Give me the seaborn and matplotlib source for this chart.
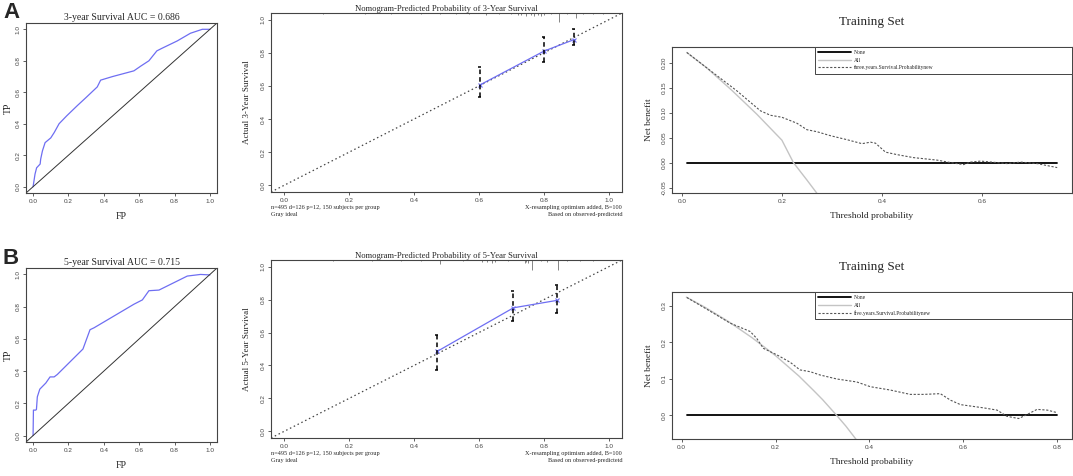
import numpy as np
import pandas as pd
import matplotlib
matplotlib.use("Agg")
import matplotlib.pyplot as plt
import seaborn as sns

# ROC curves (FP, TP)
roc3_fp = [0, 0.011, 0.02, 0.04, 0.043, 0.053, 0.068, 0.10, 0.12, 0.147, 0.19, 0.25, 0.30, 0.363, 0.382,
           0.45, 0.57, 0.61, 0.655, 0.70, 0.73, 0.815, 0.89, 0.957, 1.0]
roc3_tp = [0, 0.08, 0.12, 0.144, 0.175, 0.228, 0.28, 0.31, 0.345, 0.40, 0.45, 0.515, 0.567, 0.634, 0.677,
           0.70, 0.736, 0.767, 0.80, 0.863, 0.88, 0.926, 0.975, 1.0, 1.0]
roc5_fp = [0, 0.002, 0.015, 0.019, 0.024, 0.038, 0.072, 0.096, 0.119, 0.137, 0.282, 0.322, 0.345,
           0.57, 0.618, 0.655, 0.712, 0.872, 0.947, 1.0]
roc5_tp = [0, 0.158, 0.158, 0.162, 0.24, 0.288, 0.326, 0.364, 0.364, 0.379, 0.537, 0.657, 0.669,
           0.815, 0.842, 0.899, 0.903, 0.99, 1.0, 0.997]

# calibration
cal3_pred = [0.603, 0.80, 0.893]
cal3_obs = [0.606, 0.81, 0.88]
cal3_lo = [0.531, 0.747, 0.845]
cal3_hi = [0.713, 0.895, 0.945]
cal5_pred = [0.471, 0.706, 0.84]
cal5_obs = [0.485, 0.75, 0.795]
cal5_lo = [0.372, 0.67, 0.718]
cal5_hi = [0.583, 0.849, 0.891]
rug3_x = [0.12, 0.25, 0.33, 0.42, 0.48, 0.53, 0.57, 0.62, 0.66, 0.70, 0.72, 0.73, 0.745, 0.76, 0.77,
          0.78, 0.79, 0.80, 0.82, 0.846, 0.87, 0.897, 0.92, 0.95, 0.98]
rug3_h = [0.004, 0.004, 0.004, 0.005, 0.006, 0.006, 0.008, 0.012, 0.008, 0.008, 0.012, 0.01, 0.014, 0.012,
          0.016, 0.012, 0.014, 0.01, 0.008, 0.048, 0.008, 0.03, 0.008, 0.006, 0.004]
rug5_x = [0.15, 0.27, 0.36, 0.42, 0.48, 0.55, 0.61, 0.625, 0.64, 0.65, 0.69, 0.74, 0.745, 0.75, 0.763,
          0.79, 0.81, 0.842, 0.87, 0.91, 0.95]
rug5_h = [0.004, 0.004, 0.005, 0.006, 0.02, 0.006, 0.014, 0.012, 0.016, 0.012, 0.008, 0.016, 0.014, 0.016,
          0.055, 0.008, 0.01, 0.055, 0.008, 0.006, 0.004]

# decision curves
dca3_t = [0.01, 0.063, 0.11, 0.157, 0.177, 0.20, 0.23, 0.25, 0.27, 0.297, 0.33, 0.36, 0.377, 0.387,
          0.407, 0.43, 0.463, 0.51, 0.537, 0.563, 0.577, 0.597, 0.63, 0.65, 0.677, 0.71, 0.75]
dca3_nb = [0.221, 0.18, 0.144, 0.104, 0.095, 0.091, 0.079, 0.066, 0.062, 0.054, 0.046, 0.038, 0.041, 0.039,
           0.021, 0.016, 0.01, 0.005, 0.0, -0.004, 0.001, 0.003, 0.0, -0.002, 0.001, -0.002, -0.01]
all3_t = [0.01, 0.05, 0.10, 0.15, 0.20, 0.223, 0.25, 0.28]
all3_nb = [0.221, 0.19, 0.145, 0.097, 0.045, 0.0, -0.035, -0.075]
dca5_t = [0.011, 0.068, 0.103, 0.146, 0.16, 0.174, 0.203, 0.231, 0.252, 0.274, 0.295, 0.331, 0.373,
          0.402, 0.444, 0.487, 0.516, 0.551, 0.573, 0.594, 0.644, 0.672, 0.693, 0.718, 0.736, 0.757,
          0.779, 0.80]
dca5_nb = [0.322, 0.279, 0.252, 0.229, 0.21, 0.183, 0.165, 0.145, 0.124, 0.119, 0.11, 0.099, 0.091,
           0.078, 0.069, 0.057, 0.057, 0.059, 0.041, 0.029, 0.02, 0.014, -0.003, -0.009, 0.002, 0.016,
           0.014, 0.007]
all5_t = [0.01, 0.05, 0.10, 0.15, 0.20, 0.25, 0.28, 0.30, 0.33, 0.35, 0.38]
all5_nb = [0.323, 0.295, 0.256, 0.212, 0.163, 0.107, 0.069, 0.043, 0.0, -0.03, -0.08]

sns.set_theme(style="ticks")
plt.rcParams["font.family"] = ["Liberation Serif", "DejaVu Serif"]
plt.rcParams["axes.edgecolor"] = "#444444"
plt.rcParams["axes.linewidth"] = 0.8

W, H = 1073, 476
fig = plt.figure(figsize=(W / 100, H / 100), dpi=100)
fig.patch.set_facecolor("white")


def rect(l, r, t, b):
    return [l / W, 1 - b / H, (r - l) / W, (b - t) / H]


def r_style(ax):
    ax.tick_params(axis="both", length=2.5, width=0.6, pad=1.5, colors="#444444", labelsize=4.6)
    for lab in ax.get_xticklabels() + ax.get_yticklabels():
        lab.set_family(["Liberation Sans", "DejaVu Sans"])
    for lab in ax.get_yticklabels():
        lab.set_rotation(90)
        lab.set_va("center")
    for s in ax.spines.values():
        s.set_visible(True)


blue = "#6e6ef2"


def roc_panel(box, fp, tp, title, letter, ly):
    ax = fig.add_axes(rect(*box))
    df = pd.DataFrame({"FP": fp, "TP": tp})
    sns.lineplot(data=df, x="FP", y="TP", ax=ax, color=blue, lw=0.9, sort=False, estimator=None)
    ax.axline((0, 0), slope=1, color="#333333", lw=0.7)
    ax.set_xlim(-0.04, 1.04)
    ax.set_ylim(-0.04, 1.04)
    ax.set_xticks(np.arange(0, 1.01, 0.2))
    ax.set_yticks(np.arange(0, 1.01, 0.2))
    ax.set_xlabel("FP", fontsize=7, labelpad=6)
    ax.set_ylabel("TP", fontsize=7, labelpad=2)
    ax.set_title(title, fontsize=7, pad=2.5)
    r_style(ax)
    fig.text(3 / W, 1 - ly / H, letter, fontsize=16, fontweight="bold",
             family=["Liberation Sans", "DejaVu Sans"], va="center", ha="left")
    return ax


def cal_panel(box, pred, obs, lo, hi, rx, rh, yr):
    ax = fig.add_axes(rect(*box))
    ax.plot([-0.04, 1.04], [-0.04, 1.04], color="#444444", lw=0.9, ls=(0, (1.2, 2.2)))
    df = pd.DataFrame({"pred": pred, "obs": obs})
    sns.lineplot(data=df, x="pred", y="obs", ax=ax, color=blue, lw=0.9, marker="x",
                 markersize=3, markeredgecolor=blue, markeredgewidth=0.8)
    ax.vlines(pred, lo, hi, color="black", lw=1.1, ls=(0, (3, 2)))
    ax.hlines(lo, np.array(pred) - 0.006, np.array(pred) + 0.002, color="black", lw=1.1)
    ax.hlines(hi, np.array(pred) - 0.006, np.array(pred) + 0.002, color="black", lw=1.1)
    ax.vlines(rx, [1 - h for h in rh], 1, color="#555555", lw=0.5, transform=ax.get_xaxis_transform())
    ax.set_xlim(-0.04, 1.04)
    ax.set_ylim(-0.04, 1.04)
    ax.set_xticks(np.arange(0, 1.01, 0.2))
    ax.set_yticks(np.arange(0, 1.01, 0.2))
    ax.set_xlabel("")
    ax.set_ylabel("Actual %s-Year Survival" % yr, fontsize=6.5, labelpad=7)
    ax.set_title("Nomogram-Predicted Probability of %s-Year Survival" % yr, fontsize=6.2, pad=1.5)
    r_style(ax)
    ax.text(0, -0.075, "n=495 d=126 p=12, 150 subjects per group\nGray ideal", transform=ax.transAxes,
            fontsize=4.5, va="top", ha="left", linespacing=1.5)
    ax.text(1, -0.075, "X-resampling optimism added, B=100\nBased on observed-predictetd",
            transform=ax.transAxes, fontsize=4.5, va="top", ha="right", multialignment="right",
            linespacing=1.5)
    return ax


def dca_panel(box, t, nb, at, anb, xmax, ylim, yticks, xticks, label, yfmt):
    ax = fig.add_axes(rect(*box))
    tmin = t[0]
    ax.plot([tmin, xmax], [0, 0], color="black", lw=1.3, label="None")
    sns.lineplot(x=at, y=anb, ax=ax, color="#c4c4c4", lw=1.0, label="All", sort=False, estimator=None)
    sns.lineplot(x=t, y=nb, ax=ax, color="#555555", lw=0.8, ls=(0, (2, 1.5)), label=label,
                 sort=False, estimator=None)
    pad = (xmax - tmin) * 0.04
    ax.set_xlim(tmin - pad, xmax + pad)
    ax.set_ylim(*ylim)
    ax.set_xticks(xticks)
    ax.set_yticks(yticks)
    ax.set_yticklabels([yfmt % v for v in yticks])
    ax.set_xlabel("Threshold probability", fontsize=6.8, labelpad=6)
    ax.set_ylabel("Net benefit", fontsize=6.8, labelpad=6)
    ax.set_title("Training Set", fontsize=9.5, pad=16)
    r_style(ax)
    leg = ax.legend(loc="upper left", bbox_to_anchor=(0.357, 1.0, 0.643, 0.0), mode="expand",
                    borderaxespad=0, fontsize=4, frameon=True, fancybox=False, framealpha=1,
                    edgecolor="#444444", handlelength=6, labelspacing=0.45, borderpad=0.6,
                    handletextpad=0.4)
    leg.get_frame().set_linewidth(0.7)
    leg._legend_box.align = "left"
    return ax


roc_panel((26, 217, 23, 193), roc3_fp, roc3_tp, "3-year Survival AUC = 0.686", "A", 12)
roc_panel((26, 217, 268, 442), roc5_fp, roc5_tp, "5-year Survival AUC = 0.715", "B", 258)
cal_panel((271, 622, 13, 192), cal3_pred, cal3_obs, cal3_lo, cal3_hi, rug3_x, rug3_h, "3")
cal_panel((271, 622, 260, 438), cal5_pred, cal5_obs, cal5_lo, cal5_hi, rug5_x, rug5_h, "5")
dca_panel((672, 1072, 47, 193), dca3_t, dca3_nb, all3_t, all3_nb, 0.75, (-0.061, 0.232),
          [-0.05, 0.0, 0.05, 0.10, 0.15, 0.20], [0.0, 0.2, 0.4, 0.6],
          "three.years.Survival.Probabilitynew", "%.2f")
dca_panel((672, 1072, 292, 439), dca5_t, dca5_nb, all5_t, all5_nb, 0.80, (-0.065, 0.337),
          [0.0, 0.1, 0.2, 0.3], [0.0, 0.2, 0.4, 0.6, 0.8],
          "five.years.Survival.Probabilitynew", "%.1f")

fig.savefig("out.png", dpi=100, facecolor="white")
